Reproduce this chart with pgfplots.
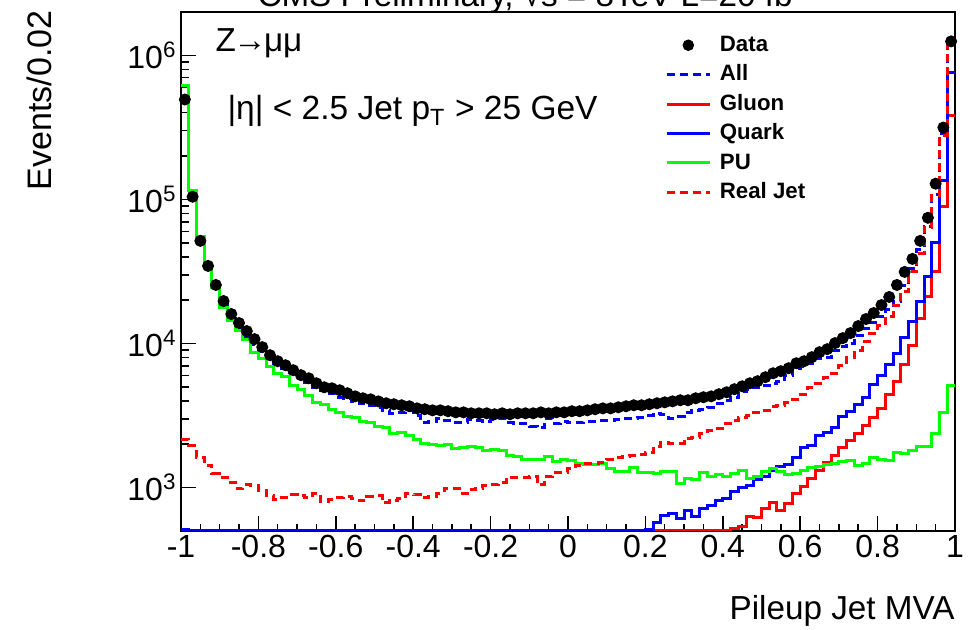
\documentclass[border=0pt]{standalone}
\usepackage{pgfplots}
\pgfplotsset{compat=1.18}
\usepackage{pgfplotstable}
\usepackage{fontspec}
\setmainfont{Liberation Sans}
\definecolor{rgreen}{RGB}{0,255,0}
\definecolor{rblue}{RGB}{0,0,255}
\definecolor{rred}{RGB}{255,0,0}

\pgfplotstableread{
xl all gluon quark pu rj
-1.00 618400 505 511 618400 2161
-0.98 114960 505 505 114960 1963
-0.96 55010 505 505 55010 1620
-0.94 34560 505 505 34560 1425
-0.92 25090 505 505 24290 1253
-0.90 19100 505 505 17920 1176
-0.88 15510 505 505 14550 1085
-0.86 13010 505 505 12400 986
-0.84 11260 505 505 10730 1051
-0.82 9904 505 505 8714 1034
-0.80 8854 505 505 7914 955
-0.78 8042 505 505 6962 881
-0.76 7304 505 505 6223 827
-0.74 6742 505 505 5932 854
-0.72 6323 505 505 5134 895
-0.70 5932 505 505 4815 881
-0.68 5387 505 505 4375 854
-0.66 4972 505 505 3910 910
-0.64 4739 505 505 3787 801
-0.62 4517 505 505 3496 827
-0.60 4236 505 505 3332 854
-0.58 4169 505 505 3125 867
-0.56 3973 505 505 3075 840
-0.54 3848 505 505 2884 814
-0.52 3727 505 505 2838 867
-0.50 3609 505 505 2662 881
-0.48 3440 505 505 2620 788
-0.46 3280 505 505 2379 814
-0.44 3332 505 505 2418 840
-0.42 3440 505 505 2304 910
-0.40 3176 505 505 2161 895
-0.38 2838 505 505 2027 854
-0.36 2884 505 505 1995 867
-0.34 3026 505 505 1963 910
-0.32 2931 505 505 1995 986
-0.30 2838 505 505 1871 986
-0.28 2838 505 505 1901 910
-0.26 2978 505 505 1932 970
-0.24 2931 505 505 1901 986
-0.22 2884 505 505 1812 1034
-0.20 2978 505 505 1842 1051
-0.18 3026 505 505 1812 1085
-0.16 2838 505 505 1673 1176
-0.14 2793 505 505 1646 1176
-0.12 2793 505 505 1569 1176
-0.10 2662 505 505 1569 1195
-0.08 2620 505 505 1569 1051
-0.06 3026 505 505 1646 1195
-0.04 2793 505 505 1520 1274
-0.02 2884 505 505 1569 1274
0.00 2838 505 505 1544 1358
0.02 2838 505 505 1472 1425
0.04 2884 505 505 1448 1472
0.06 2884 505 505 1448 1472
0.08 2931 505 505 1472 1495
0.10 2931 505 505 1358 1569
0.12 2978 505 505 1294 1620
0.14 3026 505 505 1294 1646
0.16 3026 505 505 1380 1673
0.18 3075 505 505 1274 1700
0.20 3176 505 512 1274 1755
0.22 3280 505 572 1253 1932
0.24 3227 505 639 1294 2060
0.26 3026 505 660 1294 2027
0.28 3125 505 609 1068 2027
0.30 3332 505 693 1157 2196
0.32 3440 505 629 1138 2232
0.34 3496 505 715 1274 2379
0.36 3609 505 751 1195 2497
0.38 3848 505 814 1234 2578
0.40 4037 505 840 1195 2793
0.42 4236 519 939 1253 2931
0.44 4664 536 1002 1315 3075
0.46 4815 629 1034 1157 3176
0.48 4972 619 1138 1195 3332
0.50 5134 715 1195 1294 3440
0.52 5302 788 1315 1358 3668
0.54 5475 693 1403 1294 3727
0.56 6027 775 1448 1234 3910
0.58 6742 910 1620 1253 4102
0.60 6962 1018 1901 1315 4445
0.62 7304 1157 1963 1380 4972
0.64 7914 1315 2304 1403 5302
0.66 8042 1495 2418 1448 5837
0.68 8997 1673 2620 1472 6223
0.70 9592 1901 3125 1520 7074
0.72 10065 2127 3386 1544 8042
0.74 11441 2379 3787 1425 8997
0.76 12800 2705 4236 1472 10390
0.78 14090 3075 5218 1620 11815
0.80 15510 3552 6027 1569 13430
0.82 17350 4445 7188 1544 15510
0.84 19720 5475 8576 1755 18500
0.86 25090 7188 11080 1727 23150
0.88 32940 9747 14320 1812 31400
0.90 44670 15020 19720 1932 41900
0.92 64570 21370 28980 1932 63550
0.94 107800 31400 49950 2379 106100
0.96 286600 88950 134900 3332 277500
0.98 1251000 382300 761500 5134 1251000
1.00 1251000 382300 761500 5134 1251000
}\histtab

\pgfplotstableread{
xc data
-0.99 494000
-0.97 104400
-0.95 51590
-0.93 34560
-0.91 25500
-0.89 19720
-0.87 16020
-0.85 13870
-0.83 12200
-0.81 10730
-0.79 9440
-0.77 8300
-0.75 7540
-0.73 7070
-0.71 6530
-0.69 6030
-0.67 5740
-0.65 5300
-0.63 4970
-0.61 4890
-0.59 4740
-0.57 4520
-0.55 4300
-0.53 4170
-0.51 4100
-0.49 3970
-0.47 3850
-0.45 3790
-0.43 3730
-0.41 3670
-0.39 3550
-0.37 3500
-0.35 3440
-0.33 3440
-0.31 3390
-0.29 3330
-0.27 3330
-0.25 3280
-0.23 3280
-0.21 3280
-0.19 3230
-0.17 3280
-0.15 3230
-0.13 3280
-0.11 3280
-0.09 3280
-0.07 3330
-0.05 3280
-0.03 3330
-0.01 3330
0.01 3390
0.03 3390
0.05 3440
0.07 3500
0.09 3550
0.11 3550
0.13 3610
0.15 3670
0.17 3730
0.19 3730
0.21 3790
0.23 3850
0.25 3910
0.27 3970
0.29 4040
0.31 4040
0.33 4170
0.35 4240
0.37 4300
0.39 4450
0.41 4590
0.43 4820
0.45 5050
0.47 5300
0.49 5480
0.51 5840
0.53 6220
0.55 6430
0.57 6740
0.59 7300
0.61 7540
0.63 8040
0.65 8710
0.67 9140
0.69 10070
0.71 10900
0.73 11820
0.75 13220
0.77 14790
0.79 16280
0.81 18500
0.83 21040
0.85 25500
0.87 31400
0.89 38670
0.91 51590
0.93 74600
0.95 128600
0.97 315500
0.99 1251000
}\datatab

\begin{document}
\begin{tikzpicture}[x=1pt,y=1pt]
\begin{axis}[
  at={(72.4pt,39.6pt)}, anchor=south west,
  width=309.6pt, height=207.6pt, scale only axis,
  xmin=-1, xmax=1, ymode=log, ymin=500, ymax=2e6,
  axis line style={line width=0.8pt},
  xtick={-1,-0.8,-0.6,-0.4,-0.2,0,0.2,0.4,0.6,0.8,1},
  xticklabels={-1,-0.8,-0.6,-0.4,-0.2,0,0.2,0.4,0.6,0.8,1},
  minor x tick num=3,
  ytick={1000,10000,100000,1000000},
  yticklabels={10\textsuperscript{3},10\textsuperscript{4},10\textsuperscript{5},10\textsuperscript{6}},
  tick label style={font=\fontsize{12.8}{15}\selectfont},
  yticklabel style={inner sep=1.5pt},
  xticklabel style={inner sep=1.5pt},
  xtick pos=bottom, ytick pos=left,
  tick align=inside,
  major tick length=6pt, minor tick length=3pt,
  every tick/.style={black, line width=0.6pt},
  legend cell align=left,
  legend style={draw=none, fill=none, at={(0.6253,0.9586)}, anchor=north west,
    inner sep=0pt, row sep=2.76pt, column sep=3.5pt,
    nodes={inner sep=0pt, text height=7pt, text depth=2pt},
    font=\bfseries\fontsize{8.9}{10.7}\selectfont},
]
\addlegendimage{only marks, mark=*, mark size=2.1pt, black}
\addlegendentry{Data}
\addplot[const plot, rblue, line width=1.2pt, dash pattern=on 3.2pt off 2pt] table[x=xl,y=all]{\histtab};
\addlegendentry{All}
\addplot[const plot, rred, line width=1.2pt] table[x=xl,y=gluon]{\histtab};
\addlegendentry{Gluon}
\addplot[const plot, rblue, line width=1.2pt] table[x=xl,y=quark]{\histtab};
\addlegendentry{Quark}
\addplot[const plot, rgreen, line width=1.2pt] table[x=xl,y=pu]{\histtab};
\addlegendentry{PU}
\addplot[const plot, rred, line width=1.2pt, dash pattern=on 3.2pt off 2pt] table[x=xl,y=rj]{\histtab};
\addlegendentry{Real Jet}
\addplot[only marks, mark=*, mark size=2.2pt, black, forget plot] table[x=xc,y=data]{\datatab};
\end{axis}
\node[anchor=base west, inner sep=0pt, font=\fontsize{13.3}{16}\selectfont] at (86,231.2) {Z\kern-1pt→\kern-1ptμμ};
\node[anchor=base west, inner sep=0pt, font=\fontsize{13.4}{16}\selectfont] at (90.8,204) {|η| < 2.5 Jet p\textsubscript{T} > 25 GeV};
\node[anchor=base west, inner sep=0pt, font=\fontsize{13.3}{16}\selectfont] at (102.8,249.2) {CMS Preliminary, √s = 8TeV L=20 fb\textsuperscript{-1}};
\node[rotate=90, anchor=base east, inner sep=0pt, font=\fontsize{13.6}{16}\selectfont] at (20.4,248) {Events/0.02};
\node[anchor=base east, inner sep=0pt, font=\fontsize{13.3}{16}\selectfont] at (382,4) {Pileup Jet MVA};
\pgfresetboundingbox
\path[use as bounding box] (0,0) rectangle (388.8,252);
\end{tikzpicture}
\end{document}
